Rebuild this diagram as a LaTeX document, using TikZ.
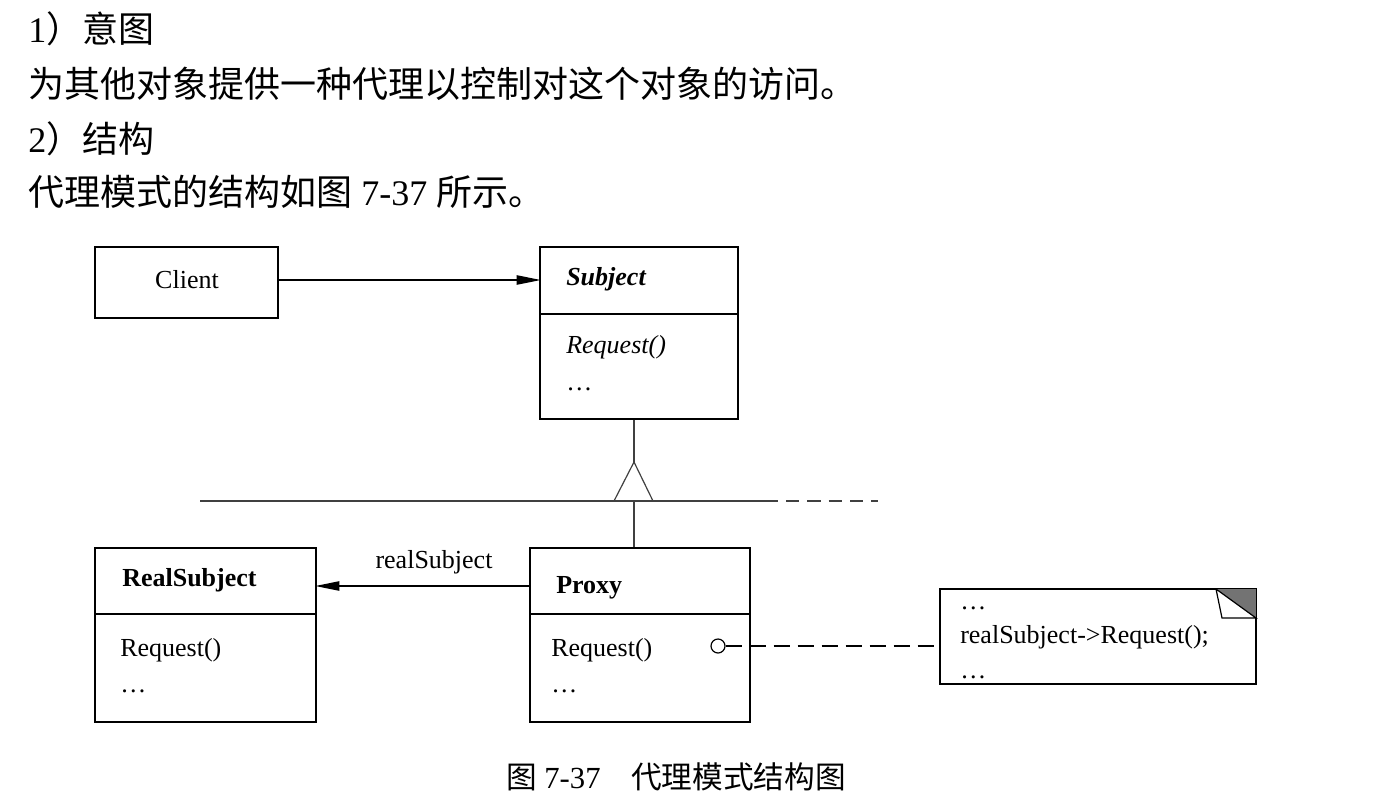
\documentclass[tikz,border=0pt]{standalone}
\usepackage{fontspec}
\setmainfont{Liberation Serif}
\newfontfamily\cjk{Noto Sans CJK SC}
\usetikzlibrary{arrows.meta,fit}
\tikzset{
  box/.style={draw, line width=0.9pt, rectangle, inner sep=0pt},
  lbl/.style={anchor=base west, inner sep=0pt, font=\fontsize{19.5}{22}\selectfont},
  para/.style={anchor=base west, inner sep=0pt, font=\fontsize{27}{30}\selectfont},
  conn/.style={line width=0.9pt},
  hier/.style={line width=0.9pt, draw=black!75},
  assoc/.style={line width=0.9pt, -{Triangle[length=18pt,width=7pt]}, shorten >=-1pt},
}
\begin{document}
\begin{tikzpicture}[x=0.75pt,y=-0.75pt]
\useasboundingbox (0,0) rectangle (1394,800);
% paragraph text
\node[para] (t1) at (28,42) {1{\cjk ）意图}};
\node[para] (t2) at (28,97) {\cjk 为其他对象提供一种代理以控制对这个对象的访问。};
\node[para] (t3) at (28,152) {2{\cjk ）结构}};
\node[para] (t4) at (28,205) {{\cjk 代理模式的结构如图} 7-37 {\cjk 所示。}};
% boxes
\node[box, fit={(95,247) (278,318)}] (client) {};
\node[box, fit={(540,247) (738,314)}] (subjH) {};
\node[box, fit={(540,314) (738,419)}] (subjB) {};
\node[box, fit={(95,548) (316,614)}] (realH) {};
\node[box, fit={(95,614) (316,722)}] (realB) {};
\node[box, fit={(530,548) (750,614)}] (proxH) {};
\node[box, fit={(530,614) (750,722)}] (proxB) {};
\node[box, fit={(940,589) (1256,684)}] (note) {};
% labels
\node[lbl, anchor=base] (clientT) at (187,288) {Client};
\node[lbl] (subjT) at (566,285) {\textbf{\textit{Subject}}};
\node[lbl] (subjR) at (566,353) {\textit{Request()}};
\node[lbl] (subjE) at (566,390) {…};
\node[lbl] (realT) at (122,586) {\textbf{RealSubject}};
\node[lbl] (realR) at (120,656) {Request()};
\node[lbl] (realE) at (120,692) {…};
\node[lbl] (proxT) at (556,593) {\textbf{Proxy}};
\node[lbl] (proxR) at (551,656) {Request()};
\node[lbl] (proxE) at (551,692) {…};
\node[lbl] (noteE1) at (960,609) {…};
\node[lbl] (noteT) at (960,643) {realSubject->Request();};
\node[lbl] (noteE2) at (960,678) {…};
% note fold
\coordinate (fa) at (1216,589);
\coordinate (fb) at (1256,589);
\coordinate (fc) at (1256,618);
\coordinate (fd) at (1222,618);
\fill[black!55] (fa) -- (fb) -- (fc) -- cycle;
\draw[conn] (fa) -- (fd) -- (fc) -- (fa);
\draw[box] (note.north west) rectangle (note.south east);
% Client -> Subject
\draw[assoc] (client.east |- 0,280) -- (subjH.west |- 0,280);
% Proxy -> RealSubject
\draw[assoc] (proxH.west |- 0,586) -- (realH.east |- 0,586);
\node[lbl, anchor=base] (rsl) at (434,568) {realSubject};
% inheritance
\coordinate (tt) at (634,462);
\coordinate (tl) at (614,501);
\coordinate (tr) at (653,501);
\coordinate (hl) at (200,501);
\coordinate (hr) at (778,501);
\coordinate (hd1) at (786,501);
\coordinate (hd2) at (878,501);
\draw[hier] (subjB.south -| tt) -- (tt);
\draw[hier] (tl) -- (tt) -- (tr);
\draw[hier] (hl) -- (hr);
\draw[hier, dash pattern=on 10pt off 6pt] (hd1) -- (hd2);
\draw[hier] (634,501) -- (proxH.north -| tt);
% note link
\node[draw, circle, line width=0.9pt, minimum size=10.5pt, inner sep=0pt] (dot) at (718,646) {};
\draw[conn, dash pattern=on 12pt off 6pt] (dot.east) -- (note.west |- dot.east);
% caption
\node[anchor=base, inner sep=0pt, font=\fontsize{23}{26}\selectfont] (cap) at (676,788) {{\cjk 图} 7-37{\cjk 　代理模式结构图}};
\end{tikzpicture}
\end{document}
